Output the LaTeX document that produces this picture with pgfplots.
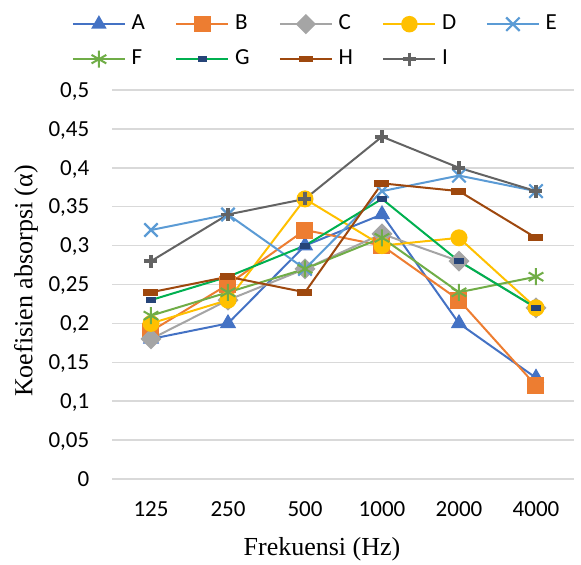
\documentclass[border=0pt]{standalone}
\usepackage{pgfplots}
\pgfplotsset{compat=1.18}
\usepackage{fontspec}
\setmainfont{Liberation Serif}
\newfontfamily\carlito{Carlito}

\definecolor{cA}{HTML}{4472C4}
\definecolor{cB}{HTML}{ED7D31}
\definecolor{cC}{HTML}{A5A5A5}
\definecolor{cD}{HTML}{FFC000}
\definecolor{cE}{HTML}{5B9BD5}
\definecolor{cF}{HTML}{70AD47}
\definecolor{cG}{HTML}{00B050}
\definecolor{cGm}{HTML}{264478}
\definecolor{cH}{HTML}{9E480E}
\definecolor{cI}{HTML}{636363}
\definecolor{gridc}{HTML}{D9D9D9}

\begin{document}
\begin{tikzpicture}
\begin{axis}[
    scale only axis,
    width=462pt, height=389pt,
    xmin=-0.5, xmax=5.5,
    ymin=0, ymax=0.5,
    xtick={0,...,5},
    xticklabels={125,250,500,1000,2000,4000},
    ytick={0,0.05,0.1,0.15,0.2,0.25,0.3,0.35,0.4,0.45,0.5},
    /pgf/number format/.cd, use comma, fixed, precision=2, assume math mode=true,
    /pgfplots/.cd,
    axis line style={draw=none},
    major tick length=0pt,
    ymajorgrids,
    grid style={gridc, line width=1.5pt},
    ticklabel style={font=\carlito\fontsize{23}{27}\selectfont, inner sep=0pt},
    xticklabel style={anchor=north, yshift=-22pt},
    yticklabel style={anchor=base east, xshift=-23pt, yshift=-7.3pt},
    xlabel={Frekuensi (Hz)},
    ylabel={Koefisien absorpsi (α)},
    label style={font=\fontsize{26}{30}\selectfont},
    xlabel style={at={(axis description cs:0.4535,-0.18)}, anchor=center},
    ylabel style={at={(axis description cs:-0.187,0.509)}, anchor=center, rotate=0},
    legend columns=5,
    legend style={
        draw=none, fill=none, inner sep=0pt,
        at={(axis description cs:-0.0877,1.1967)}, anchor=north west,
        font=\carlito\fontsize{23}{27}\selectfont,
        nodes={inner sep=0pt, text width=30pt, text height=16pt, text depth=5pt, align=left},
        /tikz/row sep=14pt,
        /tikz/every odd column/.append style={column sep=6pt},
        /tikz/every even column/.append style={column sep=14pt},
    },
    legend image code/.code={
        \draw[line width=1.5pt, mark repeat=2, mark phase=2]
            plot coordinates {(0pt,0pt) (26pt,0pt) (52pt,0pt)};
    },
    every axis plot/.append style={line width=2pt},
]
% A
\addplot[cA, mark=triangle*, mark size=7.5pt, mark options={fill=cA, draw=cA}]
    coordinates {(0,0.18) (1,0.20) (2,0.30) (3,0.34) (4,0.20) (5,0.13)};
\addlegendentry{A}
% B
\addplot[cB, mark=square*, mark size=7.5pt, mark options={fill=cB, draw=cB}]
    coordinates {(0,0.19) (1,0.25) (2,0.32) (3,0.30) (4,0.23) (5,0.12)};
\addlegendentry{B}
% C
\addplot[cC, mark=square*, mark size=6.4pt, mark options={fill=cC, draw=cC, rotate=45}]
    coordinates {(0,0.18) (1,0.23) (2,0.27) (3,0.315) (4,0.28) (5,0.22)};
\addlegendentry{C}
% D
\addplot[cD, mark=*, mark size=7.5pt, mark options={fill=cD, draw=cD}]
    coordinates {(0,0.20) (1,0.23) (2,0.36) (3,0.30) (4,0.31) (5,0.22)};
\addlegendentry{D}
% E
\addplot[cE, mark=x, mark size=9.5pt, mark options={line width=2.2pt}]
    coordinates {(0,0.32) (1,0.34) (2,0.27) (3,0.37) (4,0.39) (5,0.37)};
\addlegendentry{E}
% F
\addplot[cF, mark=asterisk, mark size=8.5pt, mark options={line width=2pt}]
    coordinates {(0,0.21) (1,0.24) (2,0.27) (3,0.31) (4,0.24) (5,0.26)};
\addlegendentry{F}
% G
\addplot[cG, mark=square*, mark size=4pt, mark options={fill=cGm, draw=cGm, yscale=0.5}]
    coordinates {(0,0.23) (1,0.26) (2,0.30) (3,0.36) (4,0.28) (5,0.22)};
\addlegendentry{G}
% H
\addplot[cH, mark=square*, mark size=6.5pt, mark options={fill=cH, draw=cH, yscale=0.38}]
    coordinates {(0,0.24) (1,0.26) (2,0.24) (3,0.38) (4,0.37) (5,0.31)};
\addlegendentry{H}
% I
\addplot[cI, mark=+, mark size=6.5pt, mark options={line width=3.8pt}]
    coordinates {(0,0.28) (1,0.34) (2,0.36) (3,0.44) (4,0.40) (5,0.37)};
\addlegendentry{I}
\end{axis}
\path (-112.5pt,-84pt) rectangle (468.5pt,479pt);
\end{tikzpicture}
\end{document}
